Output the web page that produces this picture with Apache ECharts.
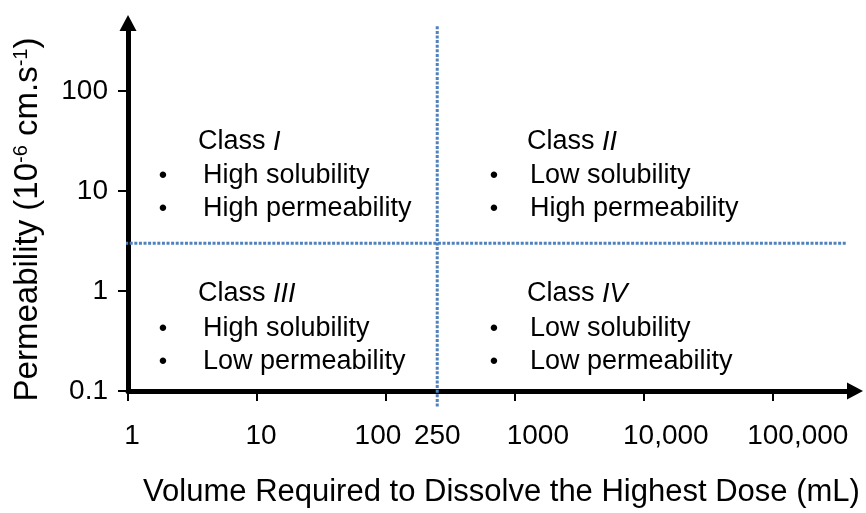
<!DOCTYPE html>
<html>
<head>
<meta charset="utf-8">
<script src="https://cdn.jsdelivr.net/npm/echarts@6/dist/echarts.min.js"></script>
<style>
  html, body { margin: 0; padding: 0; background: #ffffff; }
  #chart { width: 866px; height: 513px; }
</style>
</head>
<body>
<div id="chart"></div>
<script>
// ---- Data ----
const xTickValues = [1, 10, 100, 1000, 10000, 100000];
const xLabelValues = [1, 10, 100, 250, 1000, 10000, 100000];
const xLabelTexts = ['1', '10', '100', '250', '1000', '10,000', '100,000'];
const yTickValues = [0.1, 1, 10, 100];
const yLabelTexts = ['0.1', '1', '10', '100'];
const xRange = [1, 434000];      // mL, axis extent up to the arrow
const yRange = [0.1, 479];       // 10^-6 cm/s
const solubilityBoundary = 250;  // mL
const permeabilityBoundary = 3;  // 10^-6 cm/s
const vLineSpan = [0.07, 450];   // y extent of the 250 mL boundary
const hLineSpan = [0.95, 370000];// x extent of the permeability boundary
const classNames = ['I', 'II', 'III', 'IV'];
const classLines = [
  ['High solubility', 'High permeability'],
  ['Low solubility', 'High permeability'],
  ['High solubility', 'Low permeability'],
  ['Low solubility', 'Low permeability']
];
const xTitle = 'Volume Required to Dissolve the Highest Dose (mL)';
const yTitle = 'Permeability (10{sup|-6} cm.s{sup|-1})';

// ---- Styles ----
const FONT = "'Liberation Sans', Arial, Helvetica, sans-serif";
const BLUE = '#4F81BD';
const xLabelShift = [8, 8, -16, 0, 46, 44, 50]; // label nudges (px padding)

const chart = echarts.init(document.getElementById('chart'), null, { renderer: 'canvas' });

function nearestIndex(arr, v) {
  let best = 0, bd = Infinity;
  arr.forEach((a, i) => {
    const d = Math.abs(Math.log10(a) - Math.log10(v));
    if (d < bd) { bd = d; best = i; }
  });
  return best;
}

const xRich = {};
xLabelShift.forEach((s, i) => {
  xRich['s' + i] = {
    fontSize: 28, fontFamily: FONT, color: '#000',
    padding: s >= 0 ? [0, 0, 0, s] : [0, -s, 0, 0]
  };
});

// quadrant annotations (pixel layout)
const colX = [[198, 163, 203], [527, 494, 530], [198, 163, 203], [527, 494, 530]];
const rowY = [[142, 176, 209], [142, 176, 209], [294, 329, 362], [294, 329, 362]];
const graphics = [];
classNames.forEach((c, k) => {
  graphics.push({
    type: 'text', x: colX[k][0], y: rowY[k][0], silent: true,
    style: {
      text: 'Class {i|' + c + '}', fontSize: 27, fontFamily: FONT, fill: '#000',
      align: 'left', verticalAlign: 'middle',
      rich: { i: { fontStyle: 'italic', fontSize: 27, fontFamily: FONT, fill: '#000' } }
    }
  });
  classLines[k].forEach((t, j) => {
    graphics.push({
      type: 'text', x: colX[k][1], y: rowY[k][j + 1], silent: true,
      style: { text: '\u2022', fontSize: 24, fontFamily: FONT, fill: '#000', align: 'center', verticalAlign: 'middle' }
    });
    graphics.push({
      type: 'text', x: colX[k][2], y: rowY[k][j + 1], silent: true,
      style: { text: t, fontSize: 27, fontFamily: FONT, fill: '#000', align: 'left', verticalAlign: 'middle' }
    });
  });
});

const dotted = { color: BLUE, width: 3, type: [3, 1.6] };

const option = {
  backgroundColor: '#ffffff',
  animation: false,
  grid: { left: 128, right: 11, top: 23, bottom: 120, containLabel: false },
  xAxis: {
    type: 'log', logBase: 10, min: xRange[0], max: xRange[1],
    name: xTitle, nameLocation: 'middle', nameGap: 86,
    nameTextStyle: { fontSize: 31, fontFamily: FONT, color: '#000', padding: [0, 0, 0, 20] },
    axisLine: { show: true, lineStyle: { color: '#000', width: 5 }, symbol: ['none', 'triangle'], symbolSize: [17, 16] },
    axisTick: { show: true, inside: false, length: 10, lineStyle: { color: '#000', width: 2 }, customValues: xTickValues },
    axisLabel: {
      show: true, margin: 31, customValues: xLabelValues,
      fontSize: 28, fontFamily: FONT, color: '#000',
      formatter: function (v) {
        const i = nearestIndex(xLabelValues, v);
        return '{s' + i + '|' + xLabelTexts[i] + '}';
      },
      rich: xRich
    },
    splitLine: { show: false }
  },
  yAxis: {
    type: 'log', logBase: 10, min: yRange[0], max: yRange[1],
    name: yTitle, nameLocation: 'middle', nameRotate: 90, nameGap: 84,
    nameTextStyle: {
      fontSize: 33, fontFamily: FONT, color: '#000', padding: [0, 25, 0, 0],
      rich: { sup: { fontSize: 20, fontFamily: FONT, color: '#000', verticalAlign: 'top' } }
    },
    axisLine: { show: true, lineStyle: { color: '#000', width: 5 }, symbol: ['none', 'triangle'], symbolSize: [17, 16] },
    axisTick: { show: true, inside: false, length: 10, lineStyle: { color: '#000', width: 2 }, customValues: yTickValues },
    axisLabel: {
      show: true, margin: 20, customValues: yTickValues,
      fontSize: 28, fontFamily: FONT, color: '#000',
      formatter: function (v) { return yLabelTexts[nearestIndex(yTickValues, v)]; }
    },
    splitLine: { show: false }
  },
  series: [
    {
      name: 'Solubility boundary', type: 'line', clip: false, symbol: 'none', silent: true,
      data: [[solubilityBoundary, vLineSpan[0]], [solubilityBoundary, vLineSpan[1]]],
      lineStyle: dotted
    },
    {
      name: 'Permeability boundary', type: 'line', clip: false, symbol: 'none', silent: true,
      data: [[hLineSpan[0], permeabilityBoundary], [hLineSpan[1], permeabilityBoundary]],
      lineStyle: dotted
    }
  ],
  graphic: graphics
};

chart.setOption(option);
</script>
</body>
</html>
